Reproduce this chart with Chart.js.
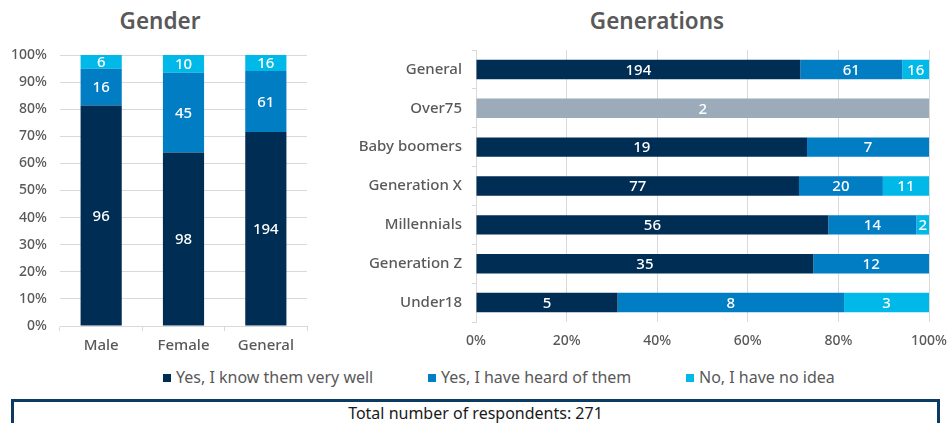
<!DOCTYPE html>
<html>
<head>
<meta charset="utf-8">
<script src="https://cdn.jsdelivr.net/npm/chart.js@4"></script>
<style>
  body { margin: 0; background: #fff; font-family: "Noto Sans", sans-serif; }
  #page { position: relative; width: 950px; height: 423px; overflow: hidden; }
  .title { position: absolute; top: 5px; font-size: 22.5px; font-weight: 600; color: #595959; text-align: center; }
  .box { position: absolute; }
  #legend { position: absolute; top: 366px; left: 0; width: 950px; height: 22px; font-size: 16px; color: #595959; }
  #legend span { position: absolute; white-space: nowrap; }
  #legend i { display: inline-block; width: 8px; height: 8px; margin-right: 5px; vertical-align: 1px; }
  #total { position: absolute; left: 11px; top: 399px; width: 923px; height: 40px; border: 3px solid #0b3a62;
           text-align: center; font-size: 16px; color: #1a1a1a; line-height: 22px; }
</style>
</head>
<body>
<div id="page">
  <div class="title" style="left:60px;width:200px">Gender</div>
  <div class="title" style="left:557px;width:200px">Generations</div>
  <div class="box" style="left:0;top:40px;width:320px;height:320px"><canvas id="genderChart"></canvas></div>
  <div class="box" style="left:330px;top:40px;width:620px;height:320px"><canvas id="generationsChart"></canvas></div>
  <div id="legend"></div>
  <div id="total">Total number of respondents: 271</div>
</div>
<script>
// answer categories
const answers = ['Yes, I know them very well', 'Yes, I have heard of them', 'No, I have no idea'];
const answerColors = ['#002d54', '#007dc3', '#00b9e8'];
const over75Grey = '#9babba';

// Gender chart (counts)
const genderLabels = ['Male', 'Female', 'General'];
const genderKnow = [96, 98, 194];
const genderHeard = [16, 45, 61];
const genderNoIdea = [6, 10, 16];

// Generations chart (counts)
const generationLabels = ['General', 'Over75', 'Baby boomers', 'Generation X', 'Millennials', 'Generation Z', 'Under18'];
const generationKnow = [194, 2, 19, 77, 56, 35, 5];
const generationHeard = [61, 0, 7, 20, 14, 12, 8];
const generationNoIdea = [16, 0, 0, 11, 2, 0, 3];

const percentTicks = [0, 10, 20, 30, 40, 50, 60, 70, 80, 90, 100];
const textGrey = '#595959';
const gridGrey = '#d9d9d9';
const fontFamily = '"Noto Sans", sans-serif';

// turn count series into 100% stacked shares
function toPercent(series) {
  const totals = series[0].map((_, i) => series.reduce((s, arr) => s + arr[i], 0));
  return series.map(arr => arr.map((v, i) => v / totals[i] * 100));
}

// writes the count inside each bar segment
const countLabels = {
  id: 'countLabels',
  afterDatasetsDraw(chart) {
    const ctx = chart.ctx;
    ctx.save();
    ctx.fillStyle = '#fff';
    ctx.font = '500 15px ' + fontFamily;
    ctx.textAlign = 'center';
    ctx.textBaseline = 'middle';
    chart.data.datasets.forEach((ds, di) => {
      const meta = chart.getDatasetMeta(di);
      meta.data.forEach((bar, i) => {
        const n = ds.counts[i];
        if (!n) return;
        const p = bar.getCenterPoint();
        ctx.fillText(String(n), p.x, p.y + 1);
      });
    });
    ctx.restore();
  }
};

function makeDatasets(counts, firstColors) {
  const pct = toPercent(counts);
  return counts.map((c, k) => ({
    label: answers[k],
    data: pct[k],
    counts: c,
    backgroundColor: k === 0 && firstColors ? firstColors : answerColors[k],
    borderWidth: 0,
    barPercentage: 1,
    categoryPercentage: 0.5
  }));
}

const tickFont = { family: fontFamily, size: 14, weight: 500 };
const catFont = { family: fontFamily, size: 15, weight: 500 };

new Chart(document.getElementById('genderChart'), {
  type: 'bar',
  data: {
    labels: genderLabels,
    datasets: makeDatasets([genderKnow, genderHeard, genderNoIdea])
  },
  options: {
    responsive: true,
    maintainAspectRatio: false,
    animation: false,
    layout: { padding: { top: 15, right: 13, left: 0, bottom: 0 } },
    plugins: { legend: { display: false }, tooltip: { enabled: false } },
    scales: {
      x: {
        stacked: true,
        grid: { drawOnChartArea: false, color: gridGrey, tickLength: 5 },
        border: { color: gridGrey },
        ticks: { color: textGrey, font: catFont, padding: 6 },
        afterFit(s) { s.height = 34; s.paddingRight = 0; s.paddingLeft = 0; }
      },
      y: {
        stacked: true,
        min: 0,
        max: 100,
        afterBuildTicks(s) { s.ticks = percentTicks.map(v => ({ value: v })); },
        grid: { color: gridGrey, drawTicks: false },
        border: { display: false },
        ticks: { color: textGrey, font: tickFont, padding: 13, callback: v => v + '%' },
        afterFit(s) { s.width = 60; s.paddingTop = 0; s.paddingBottom = 0; }
      }
    }
  },
  plugins: [countLabels]
});

const generationFirstColors = generationLabels.map(l => l === 'Over75' ? over75Grey : answerColors[0]);

new Chart(document.getElementById('generationsChart'), {
  type: 'bar',
  data: {
    labels: generationLabels,
    datasets: makeDatasets([generationKnow, generationHeard, generationNoIdea], generationFirstColors)
  },
  options: {
    indexAxis: 'y',
    responsive: true,
    maintainAspectRatio: false,
    animation: false,
    layout: { padding: { top: 10, right: 21, left: 0, bottom: 0 } },
    plugins: { legend: { display: false }, tooltip: { enabled: false } },
    scales: {
      x: {
        stacked: true,
        min: 0,
        max: 100,
        afterBuildTicks(s) { s.ticks = [0, 20, 40, 60, 80, 100].map(v => ({ value: v })); },
        grid: { color: gridGrey, drawTicks: false },
        border: { display: false },
        ticks: { color: textGrey, font: tickFont, padding: 11, callback: v => v + '%' },
        afterFit(s) { s.height = 38; s.paddingRight = 0; s.paddingLeft = 0; }
      },
      y: {
        stacked: true,
        grid: { drawOnChartArea: false, color: gridGrey, tickLength: 4 },
        border: { color: gridGrey },
        ticks: { color: textGrey, font: catFont, padding: 10 },
        afterFit(s) { s.width = 146; s.paddingTop = 0; s.paddingBottom = 0; }
      }
    }
  },
  plugins: [countLabels]
});

// legend row
const legend = document.getElementById('legend');
const legendX = [163, 428, 686];
answers.forEach((a, k) => {
  const s = document.createElement('span');
  s.style.left = legendX[k] + 'px';
  s.innerHTML = '<i style="background:' + answerColors[k] + '"></i>' + a;
  legend.appendChild(s);
});
</script>
</body>
</html>
